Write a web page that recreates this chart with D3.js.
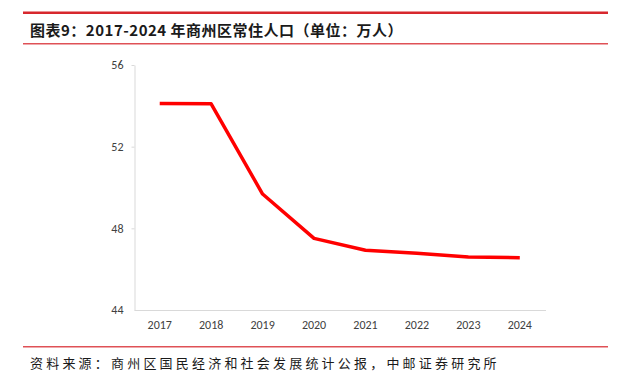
<!DOCTYPE html>
<html>
<head>
<meta charset="utf-8">
<script src="https://cdn.jsdelivr.net/npm/d3@7"></script>
<style>
  body { margin: 0; background: #fff; }
  svg { display: block; }
</style>
</head>
<body>
<svg width="621" height="382"></svg>
<script>
// 商州区常住人口（万人）
const years = ['2017', '2018', '2019', '2020', '2021', '2022', '2023', '2024'];
const population = [54.12, 54.1, 49.68, 47.51, 46.93, 46.78, 46.6, 46.56];
const yTicks = [44, 48, 52, 56];

const titleText = '图表9：2017-2024 年商州区常住人口（单位：万人）';
const sourceText = '资料来源：商州区国民经济和社会发展统计公报，中邮证券研究所';

const svg = d3.select('svg');
const cjk = '"Noto Sans CJK SC", "Noto Sans", sans-serif';
const latin = 'Calibri, Carlito, "Liberation Sans", "DejaVu Sans", sans-serif';

// header / footer rules
svg.append('rect').attr('x', 23).attr('y', 11.5).attr('width', 585).attr('height', 2.5).attr('fill', '#d7272d');
svg.append('rect').attr('x', 23).attr('y', 43.2).attr('width', 585).attr('height', 1.2).attr('fill', '#d7272d');
svg.append('rect').attr('x', 23).attr('y', 346.2).attr('width', 585).attr('height', 1.2).attr('fill', '#d7272d');

svg.append('text')
    .attr('x', 30).attr('y', 29)
    .attr('dominant-baseline', 'central')
    .style('font-family', cjk)
    .style('font-weight', 'bold')
    .style('font-size', '15px')
    .style('letter-spacing', '0.5px')
    .attr('fill', '#1a1a1a')
    .text(titleText);

svg.append('text')
    .attr('x', 30).attr('y', 362)
    .attr('dominant-baseline', 'central')
    .style('font-family', cjk)
    .style('font-size', '13px')
    .style('letter-spacing', '3.2px')
    .attr('fill', '#1a1a1a')
    .text(sourceText);

const x = d3.scaleBand()
    .domain(years)
    .range([134, 545.5]);

const y = d3.scaleLinear()
    .domain([44, 56])
    .range([310, 65]);

// x axis
const gx = svg.append('g')
    .attr('transform', 'translate(0,310)')
    .call(d3.axisBottom(x).tickSize(0).tickPadding(10));
gx.select('.domain').attr('stroke', '#d9d9d9');
gx.selectAll('text')
    .style('font-family', latin)
    .style('font-size', '12px')
    .attr('fill', '#404040');

// y axis
const gy = svg.append('g')
    .attr('transform', 'translate(134.5,0)')
    .call(d3.axisLeft(y).tickValues(yTicks).tickSize(3).tickSizeOuter(0).tickPadding(8));
gy.select('.domain').attr('stroke', '#d9d9d9');
gy.selectAll('.tick line').attr('stroke', '#d9d9d9');
gy.selectAll('.tick').filter(d => d === 44).select('line').remove();
gy.selectAll('text')
    .style('font-family', latin)
    .style('font-size', '12px')
    .attr('fill', '#404040');

const line = d3.line()
    .x((d, i) => x(years[i]) + x.bandwidth() / 2)
    .y(d => y(d));

svg.append('path')
    .datum(population)
    .attr('d', line)
    .attr('fill', 'none')
    .attr('stroke', '#ff0000')
    .attr('stroke-width', 3.5)
    .attr('stroke-linejoin', 'round');
</script>
</body>
</html>
